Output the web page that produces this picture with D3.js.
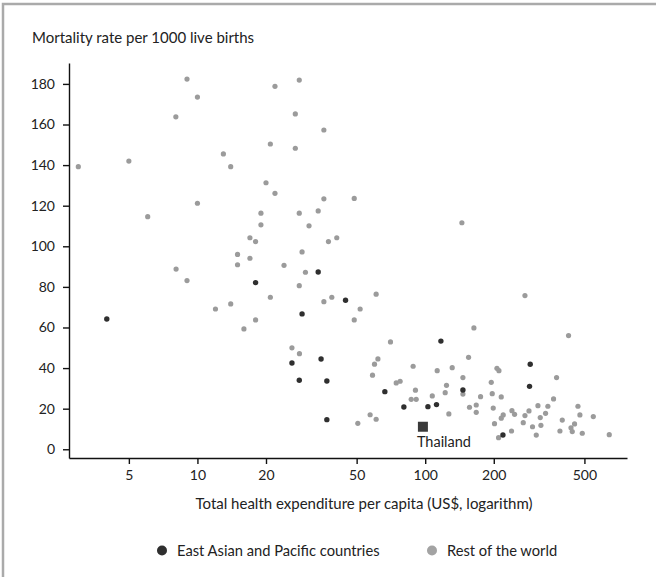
<!DOCTYPE html>
<html>
<head>
<meta charset="utf-8">
<script src="https://cdn.jsdelivr.net/npm/d3@7"></script>
<style>
  body { margin: 0; background: #fff; }
  text { font-family: "Lato", "Open Sans", sans-serif; fill: #222; }
</style>
</head>
<body>
<div id="chart"></div>
<script>
// East Asian and Pacific countries: spend (US$) and mortality per 1000
var eapSpend = [4.0, 18.0, 33.9, 44.7, 28.8, 26.0, 34.9, 28.0, 37.0, 37.0, 66.5, 80.6, 102.8, 112.1, 117.2, 146.4, 219.4, 289.1, 287.1];
var eapMort  = [64.2, 82.1, 87.3, 73.4, 66.7, 42.5, 44.5, 34.0, 33.6, 14.6, 28.4, 20.8, 21.0, 22.0, 53.3, 29.2, 7.0, 41.9, 31.0];

// Rest of the world
var rowSpend = [3.0, 5.0, 6.05, 8.04, 9.0, 10.0, 10.0, 13.0, 14.0, 20.0, 21.9, 20.9, 21.9, 26.9, 26.9, 28.0, 35.9, 35.9,
  19.0, 19.0, 17.0, 18.0, 15.0, 17.0, 28.0, 30.9, 33.9, 28.8, 37.6, 48.8, 40.9, 144.9,
  15.0, 8.06, 24.0, 29.8, 9.0, 28.0, 20.9, 35.9, 38.9, 51.8, 12.0, 14.0, 48.8, 18.0, 16.0, 26.0, 28.05, 50.6, 57.3,
  60.9, 70.4, 60.9, 58.7, 59.9, 62.0, 74.6, 77.6, 88.5, 90.6, 86.8, 91.3, 107.4, 112.9, 122.4, 124, 127, 131.4,
  146.4, 146.4, 155, 163.6, 156.5, 167.5, 167.5, 175, 195, 196.9, 198.9, 201.5, 206.5, 210.7, 215.7, 220, 215.7,
  209.9, 239.3, 240.3, 246.8, 269.4, 274.1, 274.1, 285.5, 295.9, 307.3, 312.6, 319.9, 322.1, 337.6, 345.6, 366,
  377.3, 390.4, 399.7, 425.9, 436.5, 442.2, 452.6, 468.4, 477.7, 489.3, 547, 642.7];
var rowMort = [139.2, 142, 114.6, 163.8, 182.4, 173.5, 121.2, 145.5, 139.2, 131.3, 126.1, 150.4, 178.8, 165.2, 148.3, 181.9, 157.3, 123.4,
  116.3, 110.6, 104.2, 102.3, 96, 94.1, 116.3, 110.1, 117.4, 97.2, 102.3, 123.6, 104.2, 111.6,
  90.9, 88.8, 90.6, 87.2, 83.1, 80.6, 74.9, 72.7, 74.9, 69.1, 69.1, 71.6, 63.7, 63.7, 59.3, 50, 47.1, 12.8, 17,
  76.4, 52.9, 14.8, 36.5, 41.9, 44.5, 32.7, 33.5, 40.9, 29.1, 24.6, 24.6, 26.3, 38.7, 27.9, 31.5, 17.4, 40.2,
  35.3, 27.2, 45.3, 59.8, 20.7, 21.8, 18.2, 25.9, 33, 27.4, 20.3, 12.6, 39.9, 38.7, 25.8, 16.9, 15.3,
  5.7, 9.0, 19, 17.2, 13.1, 16.6, 75.7, 18.9, 11.1, 7.0, 21.5, 15.6, 11.8, 17.7, 21.2, 24.8,
  35.3, 9.0, 14.4, 56, 10.6, 8.7, 12.5, 21.2, 16.9, 7.9, 16.1, 7.2];

// Thailand highlighted
var thaiSpend = 97.7;
var thaiMort = 11.1;

var xTicks = [5, 10, 20, 50, 100, 200, 500];
var yTicks = [0, 20, 40, 60, 80, 100, 120, 140, 160, 180];
var legendLabels = ["East Asian and Pacific countries", "Rest of the world"];

var darkCol = "#2f2f2f";
var greyCol = "#9b9b9b";

var width = 656, height = 577;

var svg = d3.select("#chart")
  .append("svg")
    .attr("width", width)
    .attr("height", height);

// frame
svg.append("rect")
  .attr("x", 3).attr("y", 4)
  .attr("width", 700).attr("height", 700)
  .attr("fill", "none")
  .attr("stroke", "#aaa")
  .attr("stroke-width", 2.5);

var x = d3.scaleLog()
  .domain([2.73, 769])
  .range([69, 627]);

var y = d3.scaleLinear()
  .domain([-4.3, 190.3])
  .range([458, 63]);

// axes
var xAxis = svg.append("g")
  .attr("transform", "translate(0," + 458 + ")")
  .call(d3.axisBottom(x).tickValues(xTicks).tickFormat(d3.format("d")).tickSize(6).tickSizeOuter(0).tickPadding(6));

var yAxis = svg.append("g")
  .attr("transform", "translate(69,0)")
  .call(d3.axisLeft(y).tickValues(yTicks).tickSize(6).tickSizeOuter(0).tickPadding(8));

[xAxis, yAxis].forEach(function (g) {
  g.selectAll("path, line").attr("stroke", "#111").attr("stroke-width", 1.4);
  g.selectAll("text").style("font-size", "14px").attr("fill", "#222");
});

// title and axis label
svg.append("text")
  .attr("x", 32).attr("y", 43)
  .style("font-size", "15px")
  .text("Mortality rate per 1000 live births");

svg.append("text")
  .attr("x", 364).attr("y", 509)
  .attr("text-anchor", "middle")
  .style("font-size", "15px")
  .text("Total health expenditure per capita (US$, logarithm)");

// rest of the world dots
svg.append("g")
  .selectAll("circle")
  .data(d3.range(rowSpend.length))
  .enter()
  .append("circle")
    .attr("cx", function (d) { return x(rowSpend[d]); })
    .attr("cy", function (d) { return y(rowMort[d]); })
    .attr("r", 2.6)
    .style("fill", greyCol);

// East Asian dots
svg.append("g")
  .selectAll("circle")
  .data(d3.range(eapSpend.length))
  .enter()
  .append("circle")
    .attr("cx", function (d) { return x(eapSpend[d]); })
    .attr("cy", function (d) { return y(eapMort[d]); })
    .attr("r", 2.7)
    .style("fill", darkCol);

// Thailand
svg.append("rect")
  .attr("x", x(thaiSpend) - 5)
  .attr("y", y(thaiMort) - 5)
  .attr("width", 10).attr("height", 10)
  .attr("fill", "#3a3a3a");

svg.append("text")
  .attr("x", x(thaiSpend) - 6)
  .attr("y", y(thaiMort) + 20)
  .style("font-size", "14.5px")
  .text("Thailand");

// legend
var legendX = [162, 432];
var legendCol = [darkCol, "#a3a3a3"];
legendLabels.forEach(function (lab, i) {
  svg.append("circle")
    .attr("cx", legendX[i]).attr("cy", 550.5)
    .attr("r", 5)
    .style("fill", legendCol[i]);
  svg.append("text")
    .attr("x", legendX[i] + 15).attr("y", 555.5)
    .style("font-size", "14.7px")
    .text(lab);
});
</script>
</body>
</html>
